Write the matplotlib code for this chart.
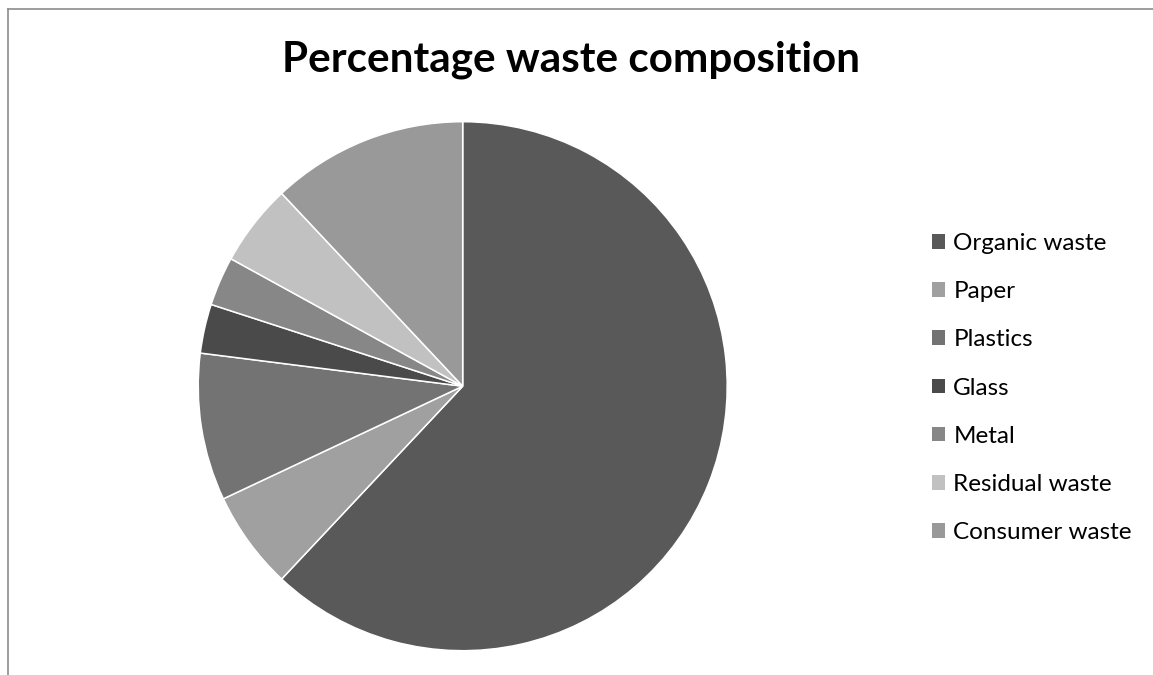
import matplotlib.pyplot as plt
import matplotlib.patches as mpatches
from matplotlib.lines import Line2D

# data
labels = ["Organic waste", "Paper", "Plastics", "Glass", "Metal",
          "Residual waste", "Consumer waste"]
shares = [62, 6, 9, 3, 3, 5, 12]
colors = ["#595959", "#a0a0a0", "#737373", "#4a4a4a", "#878787",
          "#c1c1c1", "#999999"]

plt.rcParams["font.family"] = ["Lato", "DejaVu Sans"]

fig = plt.figure(figsize=(11.53, 6.75), dpi=100)

# outer chart border (top and left visible)
fig.add_artist(Line2D([7.5 / 1153, 7.5 / 1153], [0, 1 - 9 / 675],
                      color="#8c8c8c", lw=1.2))
fig.add_artist(Line2D([7.5 / 1153, 1], [1 - 9 / 675, 1 - 9 / 675],
                      color="#8c8c8c", lw=1.2))

ax = fig.add_axes([198.2 / 1153, 24.3 / 675, 529 / 1153, 529 / 675])
wedges, _ = ax.pie(shares, colors=colors, startangle=90, counterclock=False,
                   radius=1, wedgeprops=dict(edgecolor="white", linewidth=1.1))
ax.set_xlim(-1, 1)
ax.set_ylim(-1, 1)
ax.set_aspect("equal")
ax.axis("off")

fig.text(571 / 1153, 1 - 60 / 675, "Percentage waste composition",
         ha="center", va="center", fontsize=30.4, fontweight="bold")

handles = [mpatches.Patch(facecolor=c, edgecolor="none") for c in colors]
fig.legend(handles, labels, loc="upper left",
           bbox_to_anchor=(910 / 1153, 1 - 211 / 675), frameon=False,
           fontsize=17.5, handlelength=0.55, handleheight=0.55,
           handletextpad=0.33, labelspacing=1.12)

fig.savefig("out.png", dpi=100)
